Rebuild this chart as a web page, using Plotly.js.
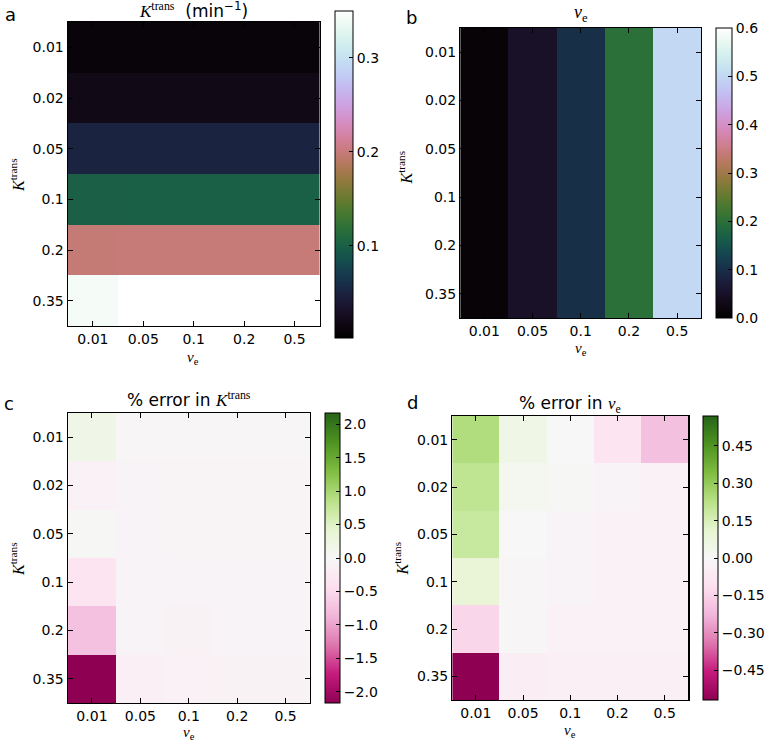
<!DOCTYPE html>
<html>
<head>
<meta charset="utf-8">
<script src="https://cdn.plot.ly/plotly-3.0.1.min.js"></script>
<style>
  html, body { margin: 0; padding: 0; background: #fff; }
  #chart { width: 770px; height: 742px; }
</style>
</head>
<body>
<div id="chart"></div>
<script>
// rows = true Ktrans, columns = true ve
const ktransLabels = ['0.01', '0.02', '0.05', '0.1', '0.2', '0.35'];
const veLabels = ['0.01', '0.05', '0.1', '0.2', '0.5'];

// a: fitted Ktrans (min^-1)
const ktransFit = [
    [0.0100, 0.0100, 0.0100, 0.0100, 0.0100],
    [0.0200, 0.0200, 0.0200, 0.0200, 0.0200],
    [0.0500, 0.0500, 0.0500, 0.0500, 0.0500],
    [0.0997, 0.1000, 0.1000, 0.1000, 0.1000],
    [0.1985, 0.2000, 0.2000, 0.2000, 0.2000],
    [0.3424, 0.3500, 0.3500, 0.3500, 0.3500]
];

// b: fitted ve
const veFit = [
    [0.01, 0.05, 0.1, 0.2, 0.5],
    [0.01, 0.05, 0.1, 0.2, 0.5],
    [0.01, 0.05, 0.1, 0.2, 0.5],
    [0.01, 0.05, 0.1, 0.2, 0.5],
    [0.01, 0.05, 0.1, 0.2, 0.5],
    [0.01, 0.05, 0.1, 0.2, 0.5]
];

// c: % error in Ktrans
const ktransErr = [
    [0.18, -0.03, -0.03, -0.04, -0.04],
    [-0.12, -0.08, -0.05, -0.05, -0.05],
    [0.03, -0.07, -0.06, -0.06, -0.06],
    [-0.35, -0.07, -0.07, -0.07, -0.07],
    [-0.75, -0.08, -0.10, -0.08, -0.08],
    [-2.17, -0.15, -0.12, -0.10, -0.10]
];

// d: % error in ve
const veErr = [
    [0.24, 0.05, 0.00, -0.09, -0.20],
    [0.21, 0.02, 0.01, -0.02, -0.03],
    [0.19, 0.00, -0.02, -0.03, -0.03],
    [0.09, -0.01, -0.02, -0.03, -0.03],
    [-0.14, -0.01, -0.03, -0.03, -0.03],
    [-0.57, -0.05, -0.04, -0.04, -0.04]
];

// matplotlib cubehelix colormap
function cubehelix(n) {
    const out = [];
    for (let i = 0; i < n; i++) {
        const x = i / (n - 1);
        const phi = 2 * Math.PI * (0.5 / 3 - 1.5 * x);
        const amp = x * (1 - x) / 2;
        const c = Math.cos(phi), s = Math.sin(phi);
        const r = x + amp * (-0.14861 * c + 1.78277 * s);
        const g = x + amp * (-0.29227 * c - 0.90649 * s);
        const b = x + amp * (1.97294 * c);
        const f = v => Math.round(255 * Math.min(1, Math.max(0, v)));
        out.push([x, `rgb(${f(r)},${f(g)},${f(b)})`]);
    }
    return out;
}

const piyg = [
    [0.0, '#8e0152'], [0.1, '#c51b7d'], [0.2, '#de77ae'], [0.3, '#f1b6da'],
    [0.4, '#fde0ef'], [0.5, '#f7f7f7'], [0.6, '#e6f5d0'], [0.7, '#b8e186'],
    [0.8, '#7fbc41'], [0.9, '#4d9221'], [1.0, '#276419']
];

const W = 770, H = 742;
const px = v => v / W;
const py = v => 1 - v / H;

const tickFont = { family: 'DejaVu Sans', size: 14, color: '#000' };
const serif = 'Liberation Serif';

function cbar(x0, thick, top, bottom, extra) {
    return Object.assign({
        x: px(x0), xanchor: 'left', xpad: 0,
        y: py(bottom), yanchor: 'bottom', ypad: 0,
        len: (bottom - top) / H, lenmode: 'fraction',
        thickness: thick, thicknessmode: 'pixels',
        outlinewidth: 1, outlinecolor: '#000',
        ticks: 'inside', ticklen: 4, tickcolor: '#000',
        tickfont: tickFont
    }, extra);
}

const data = [
    {
        type: 'heatmap', x: veLabels, y: ktransLabels, z: ktransFit,
        colorscale: cubehelix(40), zmin: 0.002, zmax: 0.35,
        xaxis: 'x', yaxis: 'y',
        colorbar: cbar(336, 18, 11, 338, { tickvals: [0.1, 0.2, 0.3], ticktext: ['0.1', '0.2', '0.3'] })
    },
    {
        type: 'heatmap', x: veLabels, y: ktransLabels, z: veFit,
        colorscale: cubehelix(40), zmin: 0, zmax: 0.6,
        xaxis: 'x2', yaxis: 'y2',
        colorbar: cbar(719, 16, 28, 318, { tickvals: [0, 0.1, 0.2, 0.3, 0.4, 0.5, 0.6], tickformat: '.1f' })
    },
    {
        type: 'heatmap', x: veLabels, y: ktransLabels, z: ktransErr,
        colorscale: piyg, zmin: -2.17, zmax: 2.17,
        xaxis: 'x3', yaxis: 'y3',
        colorbar: cbar(326, 15, 413, 703, { tickvals: [-2, -1.5, -1, -0.5, 0, 0.5, 1, 1.5, 2], tickformat: '.1f' })
    },
    {
        type: 'heatmap', x: veLabels, y: ktransLabels, z: veErr,
        colorscale: piyg, zmin: -0.57, zmax: 0.57,
        xaxis: 'x4', yaxis: 'y4',
        colorbar: cbar(706, 15, 416, 700, { tickvals: [-0.45, -0.3, -0.15, 0, 0.15, 0.3, 0.45], tickformat: '.2f' })
    }
];

function xax(l, r, anchor) {
    return {
        domain: [px(l), px(r)], anchor: anchor, type: 'category',
        showline: true, mirror: 'ticks', linecolor: '#000', linewidth: 1.2,
        ticks: 'inside', ticklen: 5, tickcolor: '#000',
        showgrid: false, zeroline: false, tickfont: tickFont, fixedrange: true
    };
}
function yax(t, b, anchor) {
    return {
        domain: [py(b), py(t)], anchor: anchor, type: 'category', autorange: 'reversed',
        showline: true, mirror: 'ticks', linecolor: '#000', linewidth: 1.2,
        ticks: 'inside', ticklen: 5, tickcolor: '#000',
        showgrid: false, zeroline: false, tickfont: tickFont, fixedrange: true
    };
}

const K = `<span style="font-family:${serif}"><i>K</i><sup>trans</sup></span>`;
const VE = `<span style="font-family:${serif}"><i>v</i><sub>e</sub></span>`;

function note(text, x, y, size, extra) {
    return Object.assign({
        text: text, x: px(x), y: py(y), xref: 'paper', yref: 'paper',
        showarrow: false, xanchor: 'center', yanchor: 'middle',
        font: { family: 'DejaVu Sans', size: size, color: '#000' }
    }, extra);
}

const annotations = [
    // panel letters
    note('a', 3, 15, 18, { xanchor: 'left' }),
    note('b', 406, 17, 18, { xanchor: 'left' }),
    note('c', 2, 403, 18, { xanchor: 'left' }),
    note('d', 407, 402, 18, { xanchor: 'left' }),
    // panel titles
    note(K + '  (min<sup>−1</sup>)', 194, 10, 17),
    note(VE, 583, 13, 18),
    note('% error in ' + K, 190, 399, 17),
    note('% error in ' + VE, 572, 404, 17),
    // x axis titles
    note(VE, 194, 358, 15),
    note(VE, 583, 349, 15),
    note(VE, 190, 733, 15),
    note(VE, 572, 731, 15),
    // y axis titles
    note(K, 17, 175, 16, { textangle: -90 }),
    note(K, 407, 168, 16, { textangle: -90 }),
    note(K, 17, 559, 16, { textangle: -90 }),
    note(K, 403, 559, 16, { textangle: -90 })
];

const layout = {
    width: W, height: H,
    margin: { l: 0, r: 0, t: 0, b: 0 },
    paper_bgcolor: '#fff', plot_bgcolor: '#fff',
    showlegend: false,
    xaxis: xax(68, 321, 'y'), yaxis: yax(22, 326, 'x'),
    xaxis2: xax(462, 704, 'y2'), yaxis2: yax(28, 318, 'x2'),
    xaxis3: xax(68, 311, 'y3'), yaxis3: yax(413, 703, 'x3'),
    xaxis4: xax(454, 691, 'y4'), yaxis4: yax(416, 700, 'x4'),
    annotations: annotations
};

Plotly.newPlot('chart', data, layout, { displayModeBar: false, staticPlot: true });
</script>
</body>
</html>
